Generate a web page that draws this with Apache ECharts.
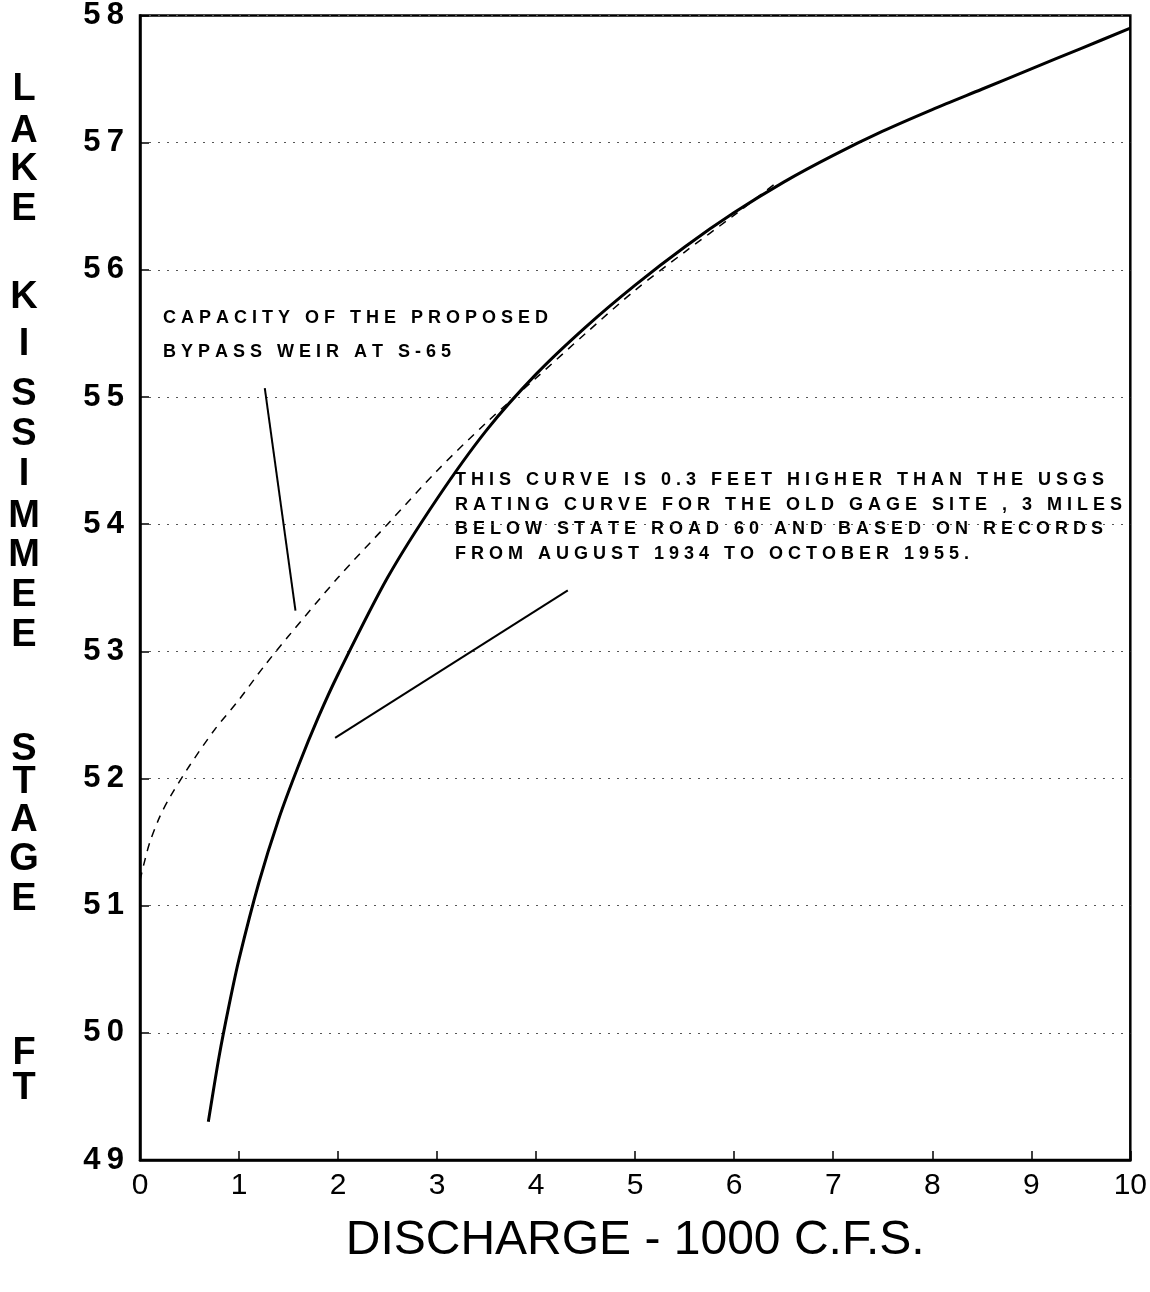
<!DOCTYPE html>
<html>
<head>
<meta charset="utf-8">
<script src="https://cdn.jsdelivr.net/npm/echarts@6/dist/echarts.min.js"></script>
<style>
html,body{margin:0;padding:0;background:#fff;}
#chart{width:1150px;height:1292px;}
</style>
</head>
<body>
<div id="chart"></div>
<script>
// ---- data ----
// Rating curve (solid): discharge in 1000 cfs vs stage in ft
const ratingX = [0.69, 0.8, 0.9, 1.0, 1.2, 1.4, 1.6, 1.8, 2.0, 2.5, 3.0, 3.5, 4.0, 4.5, 5.0, 5.5, 6.0, 6.5, 7.0, 7.5, 8.0, 8.5, 9.0, 9.5, 10.0];
const ratingY = [49.3, 49.82, 50.22, 50.58, 51.18, 51.68, 52.1, 52.48, 52.82, 53.58, 54.2, 54.74, 55.18, 55.55, 55.88, 56.18, 56.45, 56.69, 56.9, 57.09, 57.26, 57.42, 57.58, 57.74, 57.9];

// Capacity of proposed bypass weir (dashed)
const weirX = [0, 0.05, 0.1, 0.2, 0.3, 0.5, 0.75, 1.0, 1.25, 1.5, 2.0, 2.5, 3.0, 3.5, 4.0, 4.5, 5.0, 5.5, 6.0, 6.4];
const weirY = [51.2, 51.36, 51.5, 51.7, 51.85, 52.1, 52.38, 52.62, 52.88, 53.12, 53.58, 54.0, 54.42, 54.8, 55.15, 55.5, 55.84, 56.14, 56.43, 56.67];

// Leader lines of the two notes
const leader1X = [1.26, 1.57];
const leader1Y = [55.07, 53.32];
const leader2X = [1.97, 4.32];
const leader2Y = [52.32, 53.48];

// Axis ranges / tick steps
const xMin = 0, xMax = 10, xStep = 1;
const yMin = 49, yMax = 58, yStep = 1;

// Texts
const xTitle = 'DISCHARGE - 1000 C.F.S.';
const yTitleLetters = ['L','A','K','E','K','I','S','S','I','M','M','E','E','S','T','A','G','E','F','T'];
const note1 = ['CAPACITY OF THE PROPOSED', 'BYPASS WEIR AT S-65'];
const note2 = ['THIS CURVE IS 0.3 FEET HIGHER THAN THE USGS',
               'RATING CURVE FOR THE OLD GAGE SITE , 3 MILES',
               'BELOW STATE ROAD 60 AND BASED ON RECORDS',
               'FROM AUGUST 1934 TO OCTOBER 1955.'];

// ---- layout (not data) ----
const yTitleLetterPos = [90, 132, 170, 210, 298, 345, 395, 435, 475, 517, 556, 596, 636, 750, 783, 821, 860, 900, 1054, 1089];
const FONT = "'Liberation Sans', Arial, Helvetica, sans-serif";

function spaced(s) {
  return s.split(' ').map(w => w.split('').join(' ')).join('   ');
}
const pairs = (xs, ys) => xs.map((x, i) => [x, ys[i]]);

const chart = echarts.init(document.getElementById('chart'), null, {renderer: 'canvas'});

const graphics = [];
yTitleLetters.forEach((ch, i) => {
  graphics.push({
    type: 'text', x: 24, y: yTitleLetterPos[i],
    style: {text: ch, fill: '#000', font: "bold 38px 'Liberation Sans Narrow', 'Liberation Sans', Arial, sans-serif",
            textAlign: 'center', textVerticalAlign: 'middle'}
  });
});
graphics.push({
  type: 'text', x: 163, y: 301,
  style: {text: note1.map(spaced).join('\n'), fill: '#000', font: 'bold 18px ' + FONT,
          lineHeight: 34, textAlign: 'left', textVerticalAlign: 'top'}
});
graphics.push({
  type: 'text', x: 455, y: 468,
  style: {text: note2.map(spaced).join('\n'), fill: '#000', font: 'bold 18px ' + FONT,
          lineHeight: 24.5, textAlign: 'left', textVerticalAlign: 'top'}
});

const option = {
  backgroundColor: '#fff',
  animation: false,
  grid: {left: 140, right: 18, top: 15, bottom: 132, show: true, borderColor: '#000', borderWidth: 2.5, backgroundColor: 'transparent'},
  xAxis: {
    type: 'value', min: xMin, max: xMax, interval: xStep,
    name: xTitle, nameLocation: 'middle', nameGap: 57,
    nameTextStyle: {fontFamily: FONT, fontSize: 48, color: '#000'},
    axisLine: {show: true, lineStyle: {color: '#000', width: 2.5}},
    axisTick: {show: true, inside: true, length: 9, lineStyle: {color: '#000', width: 1.5}},
    axisLabel: {fontFamily: FONT, fontSize: 30, color: '#000', margin: 11},
    splitLine: {show: false}
  },
  yAxis: {
    type: 'value', min: yMin, max: yMax, interval: yStep,
    axisLine: {show: true, lineStyle: {color: '#000', width: 2.5}},
    axisTick: {show: true, inside: true, length: 9, lineStyle: {color: '#000', width: 1.5}},
    axisLabel: {fontFamily: FONT, fontSize: 31, fontWeight: 'bold', color: '#000', margin: 16,
                formatter: v => String(v).split('').join('\u2009')},
    splitLine: {show: true, lineStyle: {color: '#555', type: [2, 7], width: 1}}
  },
  series: [
    {type: 'line', name: 'rating', data: pairs(ratingX, ratingY), showSymbol: false, smooth: 0.3,
     lineStyle: {color: '#000', width: 3}, z: 5},
    {type: 'line', name: 'weir', data: pairs(weirX, weirY), showSymbol: false, smooth: 0.3,
     lineStyle: {color: '#000', width: 1.5, type: [8, 7]}, z: 4},
    {type: 'line', name: 'leader1', data: pairs(leader1X, leader1Y), showSymbol: false,
     lineStyle: {color: '#000', width: 2}, z: 4},
    {type: 'line', name: 'leader2', data: pairs(leader2X, leader2Y), showSymbol: false,
     lineStyle: {color: '#000', width: 2}, z: 4}
  ],
  graphic: graphics
};
chart.setOption(option);
</script>
</body>
</html>
